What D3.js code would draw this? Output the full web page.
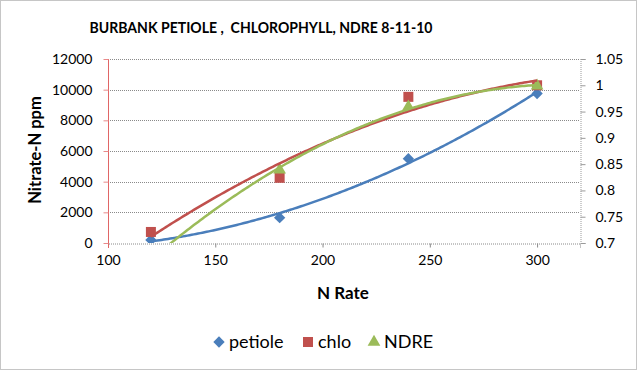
<!DOCTYPE html>
<html>
<head>
<meta charset="utf-8">
<script src="https://cdn.jsdelivr.net/npm/d3@7"></script>
<style>
  body { margin: 0; background: #fff; }
  svg { display: block; font-family: Lato, "Open Sans", sans-serif; }
</style>
</head>
<body>
<svg id="chart" width="637" height="370"></svg>
<script>
// DATA
const nRate = [120, 180, 240, 300];
const petiole = [200, 1650, 5500, 9750];      // Nitrate-N ppm, left axis
const chlo = [0.721, 0.824, 0.978, 1.0];      // right axis
const ndre = [0.67, 0.839, 0.959, 0.999];     // right axis
const leftTicks = [0, 2000, 4000, 6000, 8000, 10000, 12000];
const rightTicks = [0.7, 0.75, 0.8, 0.85, 0.9, 0.95, 1, 1.05];
const xTicks = [100, 150, 200, 250, 300];

const colors = { petiole: "#4a7ebb", chlo: "#c0504d", ndre: "#9bbb59" };

// SETUP
const svg = d3.select("#chart");
const W = 637, H = 370;
const plot = { left: 108, right: 580, top: 59, bottom: 243 };

let x = d3.scaleLinear().domain([100, 320]).range([plot.left, plot.right]);
let yL = d3.scaleLinear().domain([0, 12000]).range([plot.bottom, plot.top]);
let yR = d3.scaleLinear().domain([0.7, 1.05]).range([plot.bottom, plot.top]);

// chart border
svg.append("rect")
  .attr("x", 0.5).attr("y", 0.5)
  .attr("width", W - 1).attr("height", H - 1)
  .attr("fill", "#fff")
  .attr("stroke", "#8c8c8c")
  .attr("stroke-dasharray", "1,1");

// title
svg.append("text")
  .attr("x", 261).attr("y", 33)
  .attr("text-anchor", "middle")
  .attr("textLength", 343)
  .attr("lengthAdjust", "spacingAndGlyphs")
  .style("font-size", "16px").style("font-weight", "bold")
  .style("white-space", "pre")
  .attr("fill", "#000")
  .text("BURBANK PETIOLE ,  CHLOROPHYLL, NDRE 8-11-10");

// gridlines
svg.append("g").selectAll("line")
  .data(leftTicks.filter(d => d > 0))
  .enter().append("line")
  .attr("x1", plot.left).attr("x2", plot.right)
  .attr("y1", d => Math.round(yL(d)) + 0.5).attr("y2", d => Math.round(yL(d)) + 0.5)
  .attr("stroke", "#8a8a8a")
  .attr("stroke-dasharray", "1,1");

// x axis
let xAxis = svg.append("g")
  .attr("transform", "translate(0," + (plot.bottom + 0.5) + ")")
  .call(d3.axisBottom(x).tickValues(xTicks).tickSize(4).tickPadding(8));
xAxis.select(".domain").attr("stroke", "#8a8a8a").attr("stroke-dasharray", "1,1");
xAxis.selectAll(".tick line").attr("stroke", "#8a8a8a");

// left axis
let lAxis = svg.append("g")
  .attr("transform", "translate(" + (plot.left + 0.5) + ",0)")
  .call(d3.axisLeft(yL).tickValues(leftTicks).tickSize(5).tickPadding(11).tickFormat(d3.format("d")));
lAxis.select(".domain").attr("stroke", "#e06666").attr("d", "M0," + plot.top + "V" + (plot.bottom + 5));
lAxis.selectAll(".tick line").attr("stroke", "#e88a8a");

// right axis
let rAxis = svg.append("g")
  .attr("transform", "translate(" + (plot.right + 0.5) + ",0)")
  .call(d3.axisRight(yR).tickValues(rightTicks).tickSize(5).tickPadding(10).tickFormat(d => d3.format("")(+d.toFixed(2))));
rAxis.select(".domain").attr("stroke", "#9a9a9a").attr("stroke-dasharray", "1,1");
rAxis.selectAll(".tick line").attr("stroke", "#9a9a9a");

svg.selectAll(".tick text")
  .style("font-family", "Lato, sans-serif")
  .style("font-size", "14px")
  .attr("fill", "#000");

// axis titles
svg.append("text")
  .attr("transform", "translate(41,150) rotate(-90)")
  .attr("text-anchor", "middle")
  .style("font-size", "16.5px").style("font-weight", "bold")
  .text("Nitrate-N ppm");

svg.append("text")
  .attr("x", 343).attr("y", 299)
  .attr("text-anchor", "middle")
  .style("font-size", "17px").style("font-weight", "bold")
  .text("N Rate");

// DRAWING
svg.append("clipPath").attr("id", "plotclip")
  .append("rect")
  .attr("x", plot.left).attr("y", plot.top)
  .attr("width", plot.right - plot.left).attr("height", plot.bottom - plot.top);

// least squares polynomial (order 2) trendline, like Excel
function polyFit(xs, ys) {
  let n = xs.length, sx = 0, sx2 = 0, sx3 = 0, sx4 = 0, sy = 0, sxy = 0, sx2y = 0;
  for (let i = 0; i < n; i++) {
    let a = xs[i], b = ys[i];
    sx += a; sx2 += a * a; sx3 += a * a * a; sx4 += a * a * a * a;
    sy += b; sxy += a * b; sx2y += a * a * b;
  }
  // solve 3x3 normal equations
  let M = [[n, sx, sx2, sy], [sx, sx2, sx3, sxy], [sx2, sx3, sx4, sx2y]];
  for (let i = 0; i < 3; i++) {
    for (let k = i + 1; k < 3; k++) {
      let f = M[k][i] / M[i][i];
      for (let j = i; j < 4; j++) M[k][j] -= f * M[i][j];
    }
  }
  let c = [0, 0, 0];
  for (let i = 2; i >= 0; i--) {
    let s = M[i][3];
    for (let j = i + 1; j < 3; j++) s -= M[i][j] * c[j];
    c[i] = s / M[i][i];
  }
  return t => c[0] + c[1] * t + c[2] * t * t;
}

const series = [
  { name: "petiole", values: petiole, y: yL, color: colors.petiole, symbol: d3.symbolSquare, size: 64, rot: 45 },
  { name: "chlo", values: chlo, y: yR, color: colors.chlo, symbol: d3.symbolSquare, size: 100, rot: 0 },
  { name: "NDRE", values: ndre, y: yR, color: colors.ndre, symbol: d3.symbolTriangle, size: 70, rot: 0 }
];

let marks = svg.append("g").attr("clip-path", "url(#plotclip)");

// markers
series.forEach(function (s) {
  marks.append("g").selectAll("path")
    .data(nRate.map((n, i) => [n, s.values[i]]))
    .enter().append("path")
    .attr("transform", d => "translate(" + x(d[0]) + "," + s.y(d[1]) + ") rotate(" + s.rot + ")")
    .attr("d", d3.symbol().type(s.symbol).size(s.size))
    .attr("fill", s.color);
});

// trendlines
series.forEach(function (s) {
  let f = polyFit(nRate, s.values);
  let pts = d3.range(nRate[0], nRate[nRate.length - 1] + 0.5, 1).map(t => [t, f(t)]);
  marks.append("path")
    .datum(pts)
    .attr("fill", "none")
    .attr("stroke", s.color)
    .attr("stroke-width", 2.5)
    .attr("d", d3.line().x(d => x(d[0])).y(d => s.y(d[1])));
});

// legend
const legendX = [219, 308, 374];
let legend = svg.append("g");
series.forEach(function (s, i) {
  legend.append("path")
    .attr("transform", "translate(" + legendX[i] + ",342) rotate(" + s.rot + ")")
    .attr("d", d3.symbol().type(s.symbol).size(s.size))
    .attr("fill", s.color);
  legend.append("text")
    .attr("x", legendX[i] + 10).attr("y", 348)
    .style("font-size", "18px")
    .text(s.name);
});
</script>
</body>
</html>
